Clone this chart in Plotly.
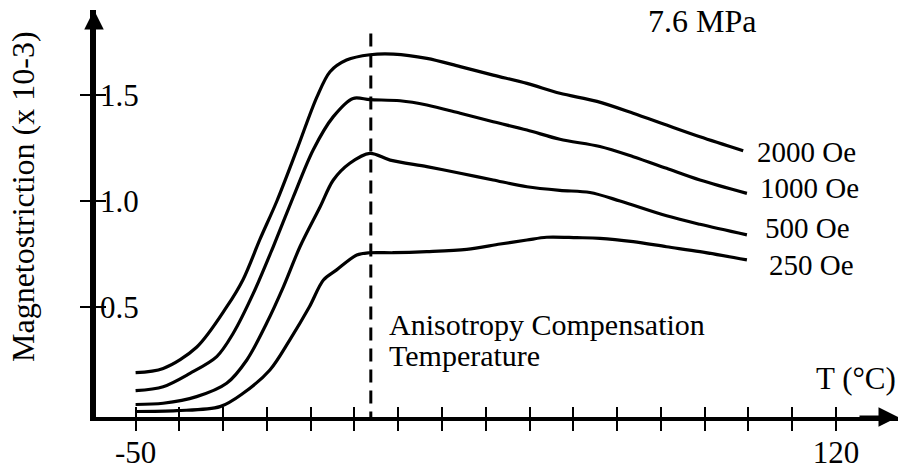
import plotly.graph_objects as go

# ---------------- data ----------------
T_2000 = [-50, -43.3, -35.2, -27.9, -23.9, -19.8, -15.7, -10.9, -6.0, -2.8, 1.2, 6.9,
          12.6, 20.7, 28.8, 36.8, 45.0, 53.0, 62.0, 70.8, 78.9, 87.0, 97.5]
M_2000 = [0.19, 0.21, 0.31, 0.50, 0.63, 0.82, 1.00, 1.24, 1.49, 1.61, 1.665, 1.69,
          1.693, 1.673, 1.634, 1.594, 1.555, 1.508, 1.47, 1.414, 1.358, 1.303, 1.237]

T_1000 = [-50, -43.3, -36.8, -30.3, -26.3, -21.4, -16.6, -11.7, -6.9, -2.0, 2.8, 6.9,
          14.2, 20.7, 28.8, 36.8, 45.0, 53.0, 62.7, 70.8, 78.9, 87.0, 98.4]
M_1000 = [0.105, 0.124, 0.187, 0.266, 0.376, 0.565, 0.784, 1.02, 1.241, 1.398, 1.484, 1.478,
          1.473, 1.453, 1.414, 1.374, 1.335, 1.291, 1.257, 1.209, 1.154, 1.099, 1.036]

T_500 = [-50, -43.3, -35.2, -27.9, -23.0, -18.2, -14.1, -10.1, -5.2, -2.0, 2.0, 6.9,
         11.8, 20.7, 28.8, 36.8, 45.0, 53.0, 60.3, 67.6, 78.9, 87.0, 98.4]
M_500 = [0.04, 0.046, 0.077, 0.14, 0.25, 0.423, 0.596, 0.784, 0.973, 1.099, 1.178, 1.225,
         1.193, 1.162, 1.131, 1.099, 1.067, 1.05, 1.04, 1.0, 0.93, 0.89, 0.84]

T_250 = [-50, -40.0, -29.5, -23.9, -17.4, -12.6, -7.8, -4.4, -1.2, 3.7, 6.9,
         12.6, 20.7, 30.4, 38.5, 45.0, 49.8, 57.1, 62.7, 70.8, 78.9, 87.0, 98.4]
M_250 = [0.007, 0.011, 0.03, 0.093, 0.203, 0.344, 0.501, 0.627, 0.675, 0.745, 0.756,
         0.756, 0.761, 0.772, 0.797, 0.816, 0.829, 0.827, 0.824, 0.808, 0.784, 0.761, 0.722]

series_T = [T_2000, T_1000, T_500, T_250]
series_M = [M_2000, M_1000, M_500, M_250]
series_labels = ["2000 Oe", "1000 Oe", "500 Oe", "250 Oe"]

x_tick_vals = [-50 + i * 170 / 16 for i in range(17)]
x_tick_text = ["-50"] + [""] * 15 + ["120"]
y_tick_vals = [0.5, 1.0, 1.5]
y_tick_text = ["0.5", "1.0", "1.5"]

comp_T = 7.1          # anisotropy compensation temperature
comp_top = 1.79

# ---------------- styling ----------------
X_RANGE = [-60.1, 135.08]
Y_RANGE = [-0.019, 1.901]
label_xshift = [12, 11, 16, 20]     # px offsets of the curve-end labels
label_yshift = [-1, 5, 7, -5]

FONT = "Liberation Serif, Times New Roman, serif"
FS = 31

fig = go.Figure()

for T, M, name, dx, dy in zip(series_T, series_M, series_labels, label_xshift, label_yshift):
    fig.add_trace(go.Scatter(x=T, y=M, mode="lines", name=name,
                             line=dict(color="black", width=3.2, shape="spline", smoothing=0.9),
                             showlegend=False, hoverinfo="skip"))
    fig.add_annotation(x=T[-1], y=M[-1], text=name, showarrow=False,
                       xanchor="left", yanchor="middle", xshift=dx, yshift=dy,
                       font=dict(family=FONT, size=29, color="black"))

# dashed compensation line
fig.add_trace(go.Scatter(x=[comp_T, comp_T], y=[comp_top, Y_RANGE[0]], mode="lines",
                         line=dict(color="black", width=3, dash="13px,8px"),
                         showlegend=False, hoverinfo="skip"))

axis_common = dict(showgrid=False, zeroline=False, showline=True, linecolor="black",
                   linewidth=3.5, tickcolor="black", tickwidth=2, ticklen=10,
                   automargin=False)

fig.update_layout(
    width=902, height=469,
    margin=dict(l=94, r=4, t=10, b=52),
    paper_bgcolor="white", plot_bgcolor="white",
    xaxis=dict(range=X_RANGE, tickmode="array", tickvals=x_tick_vals, ticktext=x_tick_text,
               ticks="outside", ticklabelstandoff=-5,
               tickfont=dict(family=FONT, size=FS, color="black"), **axis_common),
    xaxis2=dict(range=X_RANGE, overlaying="x", anchor="y", side="bottom",
                tickmode="array", tickvals=x_tick_vals, ticks="inside",
                showticklabels=False, **axis_common),
    # left-pointing half of the y ticks
    yaxis=dict(range=Y_RANGE, tickmode="array", tickvals=y_tick_vals,
               ticks="outside", showticklabels=False, **axis_common),
    # right-pointing half of the y ticks, with labels to the right of the axis line
    yaxis2=dict(range=Y_RANGE, overlaying="y", anchor="free", position=0, side="right",
                tickmode="array", tickvals=y_tick_vals, ticktext=y_tick_text,
                ticks="outside", ticklabelstandoff=-12,
                tickfont=dict(family=FONT, size=FS, color="black"), **axis_common),
)

# dummy trace to activate overlay axes
fig.add_trace(go.Scatter(x=[None], y=[None], xaxis="x2", yaxis="y2", showlegend=False))

# axis arrows
fig.add_annotation(x=0, y=1, xref="paper", yref="paper", ax=0, ay=40, text="",
                   showarrow=True, arrowhead=2, arrowsize=1.3, arrowwidth=3, arrowcolor="black")
fig.add_annotation(x=1, y=0, xref="paper", yref="paper", ax=-40, ay=0, text="",
                   showarrow=True, arrowhead=2, arrowsize=1.3, arrowwidth=3, arrowcolor="black")

# texts
fig.add_annotation(x=-0.0883, y=0.5405, xref="paper", yref="paper",
                   text="Magnetostriction (x 10-3)", textangle=-90, showarrow=False,
                   xanchor="center", yanchor="middle",
                   font=dict(family=FONT, size=32, color="black"))
fig.add_annotation(x=0.686, y=0.973, xref="paper", yref="paper", text="7.6 MPa",
                   xanchor="left", yanchor="middle", showarrow=False,
                   font=dict(family=FONT, size=32, color="black"))
fig.add_annotation(x=0.364, y=0.227, xref="paper", yref="paper", text="Anisotropy Compensation",
                   xanchor="left", yanchor="middle", showarrow=False,
                   font=dict(family=FONT, size=30, color="black"))
fig.add_annotation(x=0.364, y=0.151, xref="paper", yref="paper", text="Temperature",
                   xanchor="left", yanchor="middle", showarrow=False,
                   font=dict(family=FONT, size=30, color="black"))
fig.add_annotation(x=1.0, y=0.0946, xref="paper", yref="paper", text="T (°C)",
                   xanchor="right", yanchor="middle", showarrow=False,
                   font=dict(family=FONT, size=FS, color="black"))

fig.write_html("out.html")
